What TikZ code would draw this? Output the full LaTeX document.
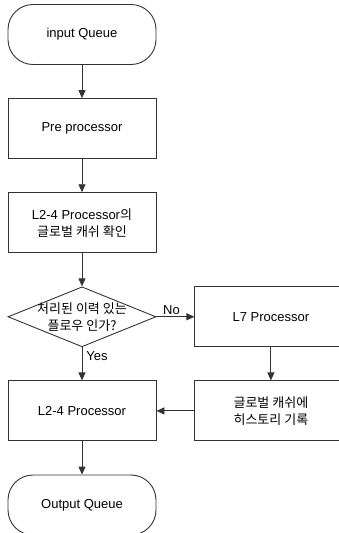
\documentclass[tikz,border=0pt]{standalone}
\usepackage{fontspec}
\setmainfont{Liberation Sans}
\newfontfamily\kr{Noto Sans CJK KR}
\usetikzlibrary{shapes,arrows.meta,positioning}

\begin{document}
\begin{tikzpicture}[font=\fontsize{13}{17}\selectfont,
    node distance=33.2pt,
    every node/.style={align=center},
    term/.style={draw=black!80,line width=0.9pt,rounded corners=25pt,minimum width=148pt,minimum height=60pt},
    proc/.style={draw=black!80,line width=0.9pt,minimum width=148pt,minimum height=60pt},
    sideproc/.style={proc,minimum width=152pt},
    decision/.style={draw=black!80,line width=0.9pt,diamond,inner sep=0pt,minimum width=148pt,minimum height=60pt},
    flow/.style={draw=black!80,line width=0.9pt,-{Triangle[length=8pt,width=7pt]}}]
  \useasboundingbox (0,0) rectangle (338pt,-533pt);

  \node[term] (inq) at (82pt,-34.5pt) {input Queue};
  \node[proc,below=of inq] (pre) {Pre processor};
  \node[proc,below=of pre] (chk) {L2-4 Processor{\kr 의}\\{\kr 글로벌 캐쉬 확인}};
  \node[decision,below=of chk,label={[align=center]center:{\kr 처리된 이력 있는}\\{\kr 플로우 인가?}}] (dec) {};
  \node[proc,below=of dec] (l24) {L2-4 Processor};
  \node[term,below=of l24] (outq) {Output Queue};
  \node[sideproc,right=38pt of dec.east,anchor=west] (l7) {L7 Processor};
  \node[sideproc,right=38pt of l24.east,anchor=west] (hist) {{\kr 글로벌 캐쉬에}\\{\kr 히스토리 기록}};

  \draw[flow] (inq) -- (pre);
  \draw[flow] (pre) -- (chk);
  \draw[flow] (chk) -- (dec);
  \draw[flow] (dec) -- node[pos=0.27,right,inner sep=4pt]{Yes} (l24);
  \draw[flow] (dec) -- node[midway,above,xshift=-4pt,inner sep=2pt]{No} (l7);
  \draw[flow] (l7) -- (hist);
  \draw[flow] (hist) -- (l24);
  \draw[flow] (l24) -- (outq);
\end{tikzpicture}
\end{document}
